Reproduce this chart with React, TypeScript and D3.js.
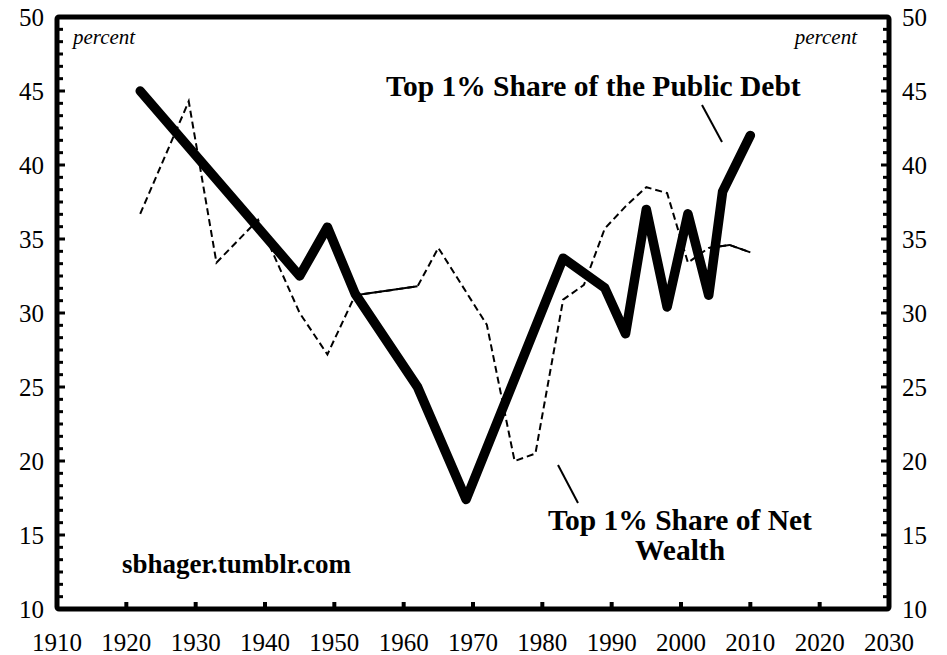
import * as d3 from "d3";

// Top 1% share of public debt (thick line)
const debtYears = [1922, 1945, 1949, 1953, 1962, 1969, 1983, 1989, 1992, 1995, 1998, 2001, 2004, 2006, 2010];
const debtShare = [45.0, 32.5, 35.8, 31.3, 25.0, 17.4, 33.7, 31.7, 28.6, 37.0, 30.4, 36.7, 31.2, 38.2, 42.0];

// Top 1% share of net wealth (thin dashed line)
const wealthYears = [1922, 1929, 1933, 1939, 1945, 1949, 1953, 1962, 1965, 1972, 1976, 1979, 1983, 1986, 1989, 1992, 1995, 1998, 2001, 2004, 2007, 2010];
const wealthShare = [36.7, 44.3, 33.4, 36.3, 30.0, 27.2, 31.2, 31.8, 34.4, 29.2, 20.0, 20.5, 30.9, 31.9, 35.7, 37.2, 38.5, 38.1, 33.4, 34.4, 34.6, 34.1];
// spans of the wealth series drawn as a plain thin line
const wealthSolidSpans = [[1953, 1962], [2004, 2010]];

const xTicks = [1910, 1920, 1930, 1940, 1950, 1960, 1970, 1980, 1990, 2000, 2010, 2020, 2030];
const yTicks = [10, 15, 20, 25, 30, 35, 40, 45, 50];

const W = 947;
const H = 655;
const FONT = "'Liberation Serif', 'Times New Roman', serif";

export default function App() {
  const x = d3.scaleLinear().domain([1910, 2030]).range([57, 889]);
  const y = d3.scaleLinear().domain([10, 50]).range([609, 17]);

  const line = d3
    .line<[number, number]>()
    .x((d) => x(d[0]))
    .y((d) => y(d[1]));

  const debt = debtYears.map((yr, i) => [yr, debtShare[i]] as [number, number]);
  const wealth = wealthYears.map((yr, i) => [yr, wealthShare[i]] as [number, number]);

  // minor ticks: 5 between each pair of labelled ticks
  const minorTicks = d3
    .range(0, 48)
    .map((i) => 10 + (i * 5) / 6)
    .filter((_, i) => i % 6 !== 0);

  return (
    <svg
      width={W}
      height={H}
      style={{ position: "absolute", left: 0, top: 0, background: "#fff" }}
      fontFamily={FONT}
    >
      {/* wealth series */}
      <path d={line(wealth) || ""} fill="none" stroke="#000" strokeWidth={2} strokeDasharray="7,4" />
      {wealthSolidSpans.map(([a, b], i) => (
        <path
          key={i}
          d={line(wealth.filter((d) => d[0] >= a && d[0] <= b)) || ""}
          fill="none"
          stroke="#000"
          strokeWidth={2}
        />
      ))}

      {/* debt series */}
      <path
        d={line(debt) || ""}
        fill="none"
        stroke="#000"
        strokeWidth={9.5}
        strokeLinecap="round"
        strokeLinejoin="round"
      />

      {/* frame */}
      <rect
        x={x(1910)}
        y={y(50)}
        width={x(2030) - x(1910)}
        height={y(10) - y(50)}
        fill="none"
        stroke="#000"
        strokeWidth={5}
        rx={2}
      />

      {/* y ticks */}
      {yTicks.map((v) => (
        <g key={v}>
          <line x1={x(1910)} x2={x(1910) + 8} y1={y(v)} y2={y(v)} stroke="#000" strokeWidth={3} />
          <line x1={x(2030)} x2={x(2030) - 8} y1={y(v)} y2={y(v)} stroke="#000" strokeWidth={3} />
          <text x={44} y={y(v)} dy="0.35em" textAnchor="end" fontSize={25}>
            {v}
          </text>
          <text x={902} y={y(v)} dy="0.35em" textAnchor="start" fontSize={25}>
            {v}
          </text>
        </g>
      ))}
      {minorTicks.map((v) => (
        <g key={"m" + v}>
          <line x1={x(1910)} x2={x(1910) + 6} y1={y(v)} y2={y(v)} stroke="#000" strokeWidth={3} />
          <line x1={x(2030)} x2={x(2030) - 6} y1={y(v)} y2={y(v)} stroke="#000" strokeWidth={3} />
        </g>
      ))}

      {/* x ticks */}
      {xTicks.map((v) => (
        <g key={v}>
          {v > 1910 && v < 2030 && (
            <line x1={x(v)} x2={x(v)} y1={y(10)} y2={y(10) - 7} stroke="#000" strokeWidth={4} />
          )}
          <text x={x(v)} y={651} textAnchor="middle" fontSize={25}>
            {v}
          </text>
        </g>
      ))}

      {/* unit labels */}
      <text x={73} y={44} fontSize={21} fontStyle="italic">
        percent
      </text>
      <text x={857} y={44} fontSize={21} fontStyle="italic" textAnchor="end">
        percent
      </text>

      {/* annotations */}
      <text x={386} y={96} fontSize={29.5} fontWeight="bold">
        Top 1% Share of the Public Debt
      </text>
      <line x1={702} y1={105} x2={722} y2={142} stroke="#000" strokeWidth={2} />

      <line x1={558} y1={465} x2={578} y2={503} stroke="#000" strokeWidth={2} />
      <text x={680} y={530} fontSize={29.5} fontWeight="bold" textAnchor="middle">
        Top 1% Share of Net
      </text>
      <text x={680} y={560} fontSize={29.5} fontWeight="bold" textAnchor="middle">
        Wealth
      </text>

      <text x={122} y={573} fontSize={27} fontWeight="bold">
        sbhager.tumblr.com
      </text>
    </svg>
  );
}
